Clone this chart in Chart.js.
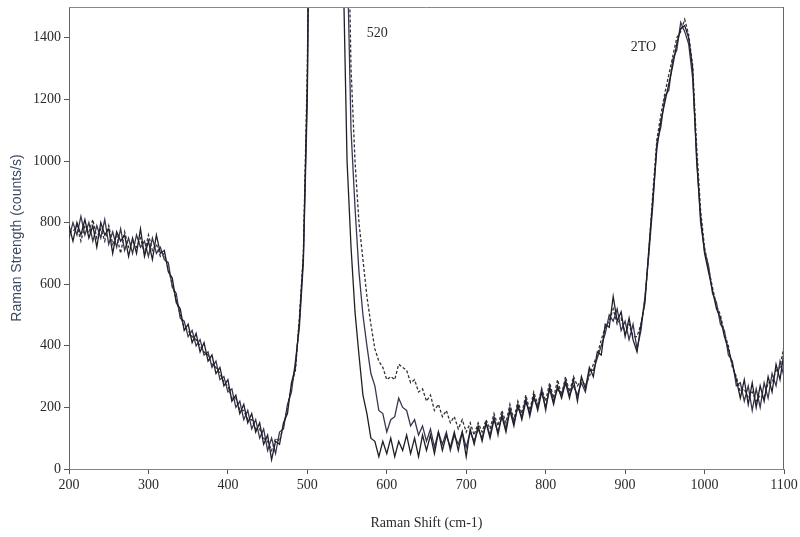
<!DOCTYPE html>
<html lang="en">
<head>
<meta charset="UTF-8">
<title>Raman Spectrum</title>
<script src="https://cdn.jsdelivr.net/npm/chart.js"></script>
<style>
    html, body { margin: 0; padding: 0; background: #fff; }
    #wrap { width: 800px; height: 537px; }
</style>
</head>
<body>
<div id="wrap"><canvas id="ramanChart" width="800" height="537"></canvas></div>
<script>
// Raman shift sampling (cm-1)
var shiftStart = 200;
var shiftStep = 5;

// three measured spectra, counts/s, one value every 5 cm-1 from 200 to 1100
var spectrumA = [
    790, 740, 800, 760, 810, 750, 790, 720, 800, 760, 780, 700, 770, 740, 760, 690, 750, 700, 780, 690,
    740, 680, 760, 700, 710, 640, 620, 540, 520, 450, 470, 410, 440, 380, 410, 350, 370, 310, 330, 270,
    290, 220, 240, 180, 210, 150, 180, 120, 150, 80, 110, 30, 90, 80, 150, 180, 280, 330, 480, 690,
    1250, 2600, 4200, 5500, 6000, 5500, 4500, 3500, 2600, 1650, 1000, 720, 510, 370, 240, 180, 100, 90, 40, 90,
    50, 100, 40, 90, 60, 110, 50, 100, 40, 110, 60, 110, 50, 120, 60, 110, 70, 120, 60, 120,
    40, 130, 80, 140, 90, 150, 100, 160, 120, 170, 120, 190, 140, 210, 160, 220, 180, 240, 190, 250,
    200, 260, 210, 270, 230, 280, 230, 290, 220, 300, 260, 330, 300, 380, 370, 470, 460, 560, 480, 510,
    430, 490, 420, 380, 470, 540, 720, 880, 1040, 1130, 1190, 1250, 1310, 1380, 1430, 1440, 1400, 1300, 1000, 820,
    700, 640, 580, 520, 490, 430, 390, 340, 290, 230, 290, 210, 280, 200, 270, 220, 300, 250, 340, 290,
    380
];
var spectrumB = [
    750, 800, 760, 820, 760, 800, 740, 790, 750, 810, 730, 770, 720, 780, 710, 750, 700, 760, 720, 740,
    690, 750, 700, 720, 680, 670, 590, 570, 490, 480, 430, 450, 400, 420, 370, 380, 330, 350, 290, 300,
    250, 260, 200, 220, 160, 190, 130, 160, 100, 130, 60, 100, 50, 120, 130, 210, 250, 350, 460, 670,
    1200, 2600, 4200, 5500, 6000, 5600, 4700, 3800, 3000, 2400, 1700, 1100, 850, 640, 500, 400, 310, 270, 190, 180,
    120, 160, 170, 230, 200, 190, 140, 160, 110, 140, 90, 130, 70, 120, 80, 120, 60, 110, 80, 120,
    70, 120, 90, 130, 100, 150, 110, 170, 110, 180, 130, 200, 150, 200, 170, 230, 170, 230, 200, 260,
    190, 270, 220, 260, 240, 290, 240, 270, 240, 280, 250, 320, 320, 360, 400, 440, 500, 480, 520, 450,
    480, 420, 470, 390, 450, 560, 700, 860, 1060, 1110, 1210, 1230, 1330, 1360, 1450, 1420, 1380, 1270, 1020, 800,
    710, 660, 570, 540, 470, 450, 370, 350, 270, 280, 220, 270, 190, 260, 200, 280, 230, 310, 270, 350,
    300
];
var spectrumC = [
    770, 770, 790, 740, 790, 770, 810, 750, 780, 740, 790, 730, 760, 700, 770, 720, 740, 720, 750, 700,
    760, 710, 730, 690, 700, 650, 600, 550, 500, 460, 450, 430, 420, 400, 380, 370, 340, 330, 310, 280,
    270, 230, 230, 190, 190, 160, 160, 130, 130, 100, 90, 60, 100, 90, 140, 200, 270, 320, 490, 700,
    1300, 2600, 4200, 5500, 6000, 5700, 4900, 4000, 3200, 2600, 2000, 1300, 1000, 800, 680, 560, 470, 390, 350, 330,
    290, 300, 290, 340, 330, 320, 280, 290, 250, 260, 220, 240, 190, 210, 170, 190, 150, 170, 130, 160,
    120, 150, 110, 150, 120, 160, 130, 180, 140, 190, 150, 210, 160, 220, 180, 240, 190, 250, 210, 260,
    220, 280, 230, 290, 240, 300, 250, 300, 270, 290, 270, 300, 340, 370, 420, 460, 480, 520, 470, 490,
    440, 470, 430, 430, 470, 550, 710, 900, 1070, 1150, 1220, 1280, 1340, 1400, 1420, 1460, 1410, 1310, 1050, 840,
    720, 650, 590, 530, 500, 440, 400, 330, 300, 250, 260, 230, 250, 220, 240, 230, 280, 280, 320, 330,
    400
];

var xTicks = [200, 300, 400, 500, 600, 700, 800, 900, 1000, 1100];
var yTicks = [0, 200, 400, 600, 800, 1000, 1200, 1400];

var peakLabels = [
    { text: '520', x: 588, y: 1413 },
    { text: '2TO', x: 923, y: 1368 }
];

function toPoints(values) {
    return values.map(function (v, i) {
        return { x: shiftStart + shiftStep * i, y: v };
    });
}

// frame on top and right, plus the peak labels
var framePlugin = {
    id: 'frame',
    afterDatasetsDraw: function (chart) {
        var ctx = chart.ctx;
        var a = chart.chartArea;
        ctx.save();
        ctx.lineWidth = 1;
        ctx.strokeStyle = '#8f7fa6';
        ctx.beginPath();
        ctx.moveTo(a.left, a.top + 0.5);
        ctx.lineTo(a.right, a.top + 0.5);
        ctx.stroke();
        ctx.strokeStyle = '#666';
        ctx.beginPath();
        ctx.moveTo(a.right - 0.5, a.top);
        ctx.lineTo(a.right - 0.5, a.bottom);
        ctx.stroke();

        ctx.fillStyle = '#2a2a2a';
        ctx.font = '14px "Liberation Serif", serif';
        ctx.textAlign = 'center';
        ctx.textBaseline = 'middle';
        peakLabels.forEach(function (p) {
            ctx.fillText(p.text, chart.scales.x.getPixelForValue(p.x), chart.scales.y.getPixelForValue(p.y));
        });
        ctx.restore();
    }
};

function plainLabel(value) {
    return String(value);
}

var ctx = document.getElementById('ramanChart').getContext('2d');
var ramanChart = new Chart(ctx, {
    type: 'line',
    data: {
        datasets: [{
            data: toPoints(spectrumA),
            borderColor: '#1f1f26',
            borderWidth: 1.3
        }, {
            data: toPoints(spectrumB),
            borderColor: '#3b3552',
            borderWidth: 1.3
        }, {
            data: toPoints(spectrumC),
            borderColor: '#333',
            borderWidth: 1.3,
            borderDash: [3, 2]
        }]
    },
    options: {
        responsive: false,
        animation: false,
        events: [],
        layout: { padding: { top: 7, right: 16, left: 0, bottom: 0 } },
        elements: { point: { radius: 0 }, line: { tension: 0 } },
        plugins: { legend: { display: false }, tooltip: { enabled: false } },
        scales: {
            x: {
                type: 'linear',
                min: 200,
                max: 1100,
                afterFit: function (scale) {
                    scale.height = 68;
                    scale.paddingLeft = 0;
                    scale.paddingRight = 0;
                },
                afterBuildTicks: function (scale) {
                    scale.ticks = xTicks.map(function (v) { return { value: v }; });
                },
                grid: { drawOnChartArea: false, drawTicks: true, tickLength: 5, color: '#555' },
                border: { display: true, color: '#b06a8a', width: 1 },
                ticks: {
                    padding: 3,
                    maxRotation: 0,
                    color: '#2a2a2a',
                    callback: plainLabel,
                    font: { family: '"Liberation Serif", serif', size: 14 }
                },
                title: {
                    display: true,
                    text: 'Raman Shift (cm-1)',
                    color: '#2a2a2a',
                    padding: { top: 0, bottom: 5 },
                    font: { family: '"Liberation Serif", serif', size: 14 }
                }
            },
            y: {
                type: 'linear',
                min: 0,
                max: 1500,
                afterFit: function (scale) {
                    scale.width = 69;
                    scale.paddingTop = 0;
                    scale.paddingBottom = 0;
                },
                afterBuildTicks: function (scale) {
                    scale.ticks = yTicks.map(function (v) { return { value: v }; });
                },
                grid: { drawOnChartArea: false, drawTicks: true, tickLength: 5, color: '#555' },
                border: { display: true, color: '#666', width: 1 },
                ticks: {
                    padding: 3,
                    color: '#2a2a2a',
                    callback: plainLabel,
                    font: { family: '"Liberation Serif", serif', size: 14 }
                },
                title: {
                    display: true,
                    text: 'Raman Strength (counts/s)',
                    color: '#3a4a60',
                    padding: { top: 9, bottom: 0 },
                    font: { family: '"Liberation Sans", sans-serif', size: 14 }
                }
            }
        }
    },
    plugins: [framePlugin]
});
</script>
</body>
</html>
